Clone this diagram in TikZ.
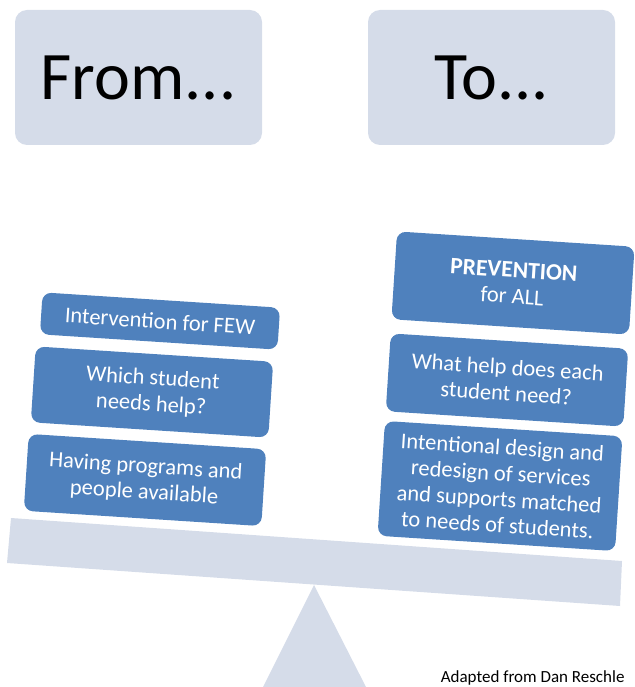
\documentclass[tikz,border=0pt]{standalone}
\usepackage{fontspec}
\setmainfont{Carlito}
\usepackage{xcolor}
\usepackage{tikz}
\usetikzlibrary{positioning}
\definecolor{xanhdam}{HTML}{4F81BD}
\definecolor{xanhnhat}{HTML}{D5DCE9}

\begin{document}
\begin{tikzpicture}[x=1pt, y=-1pt,
    nhan/.style={fill=xanhnhat, rounded corners=12pt, minimum width=247pt,
        minimum height=135pt, font=\fontsize{68}{76}\selectfont},
    hop/.style={fill=xanhdam, text=white, rounded corners=9pt, minimum width=238pt,
        align=center, rotate=-3.7, inner sep=2pt, font=\fontsize{22.5}{26}\selectfont}]
    \useasboundingbox (0,0) rectangle (634,687);
    % Hai ô tiêu đề
    \node[nhan] (tu) at (138.5,77.5) {From...};
    \node[nhan] (den) at (491.5,77.5) {To...};
    
    % Đòn cân và điểm tựa
    \fill[xanhnhat] (314,585) -- (366,687) -- (263,687) -- cycle;
    \fill[xanhnhat] (11,518) -- (622,561) -- (620,606) -- (7,563) -- cycle;
    
    % Bên trái
    \node[hop, minimum height=42pt] (few) at (160,321) {Intervention for FEW};
    \node[hop, minimum height=76pt] (which) at (152,392) {Which student\\needs help?};
    \node[hop, minimum height=77pt] (having) at (145,480) {Having programs and\\people available};
    
    % Bên phải
    \node[hop, minimum height=88pt] (all) at (513,283)
        {{\fontsize{23.5}{26}\selectfont\bfseries PREVENTION}\\for ALL};
    \node[hop, minimum height=78pt] (what) at (507,380) {What help does each\\student need?};
    \node[hop, minimum height=115pt] (design) at (500,486)
        {Intentional design and\\redesign of services\\and supports matched\\to needs of students.};
    
    \node[anchor=east, font=\fontsize{17}{20}\selectfont] (nguon) at (628,678) {Adapted from Dan Reschle};
\end{tikzpicture}
\end{document}
